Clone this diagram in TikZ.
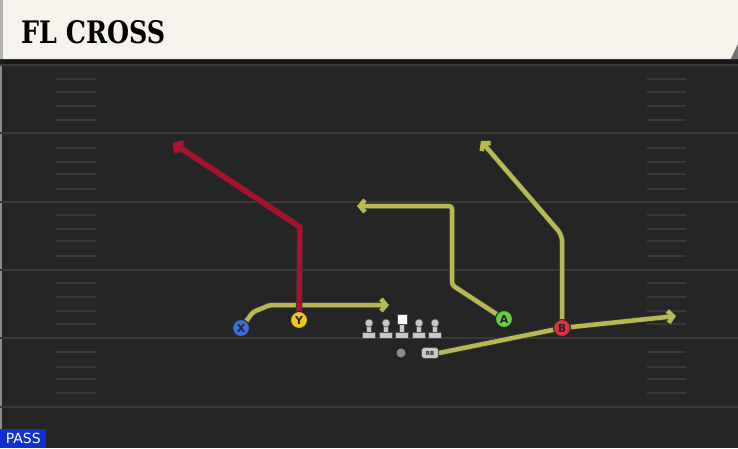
\documentclass[tikz,border=0pt]{standalone}
\usepackage{fontspec}
\setmainfont{DejaVu Sans}
\newfontfamily\titlefont{DejaVu Serif}
\usetikzlibrary{arrows.meta}
\definecolor{fieldbg}{HTML}{252525}
\definecolor{yardline}{HTML}{393939}
\definecolor{hashc}{HTML}{383838}
\definecolor{headerbg}{HTML}{F5F3EC}
\definecolor{routeyel}{HTML}{B8B852}
\definecolor{routered}{HTML}{B0102E}
\definecolor{xblue}{HTML}{3A6FD8}
\definecolor{yyel}{HTML}{F2C420}
\definecolor{agreen}{HTML}{62D040}
\definecolor{bred}{HTML}{E0303E}
\definecolor{linem}{HTML}{C8C8C8}
\definecolor{passblue}{HTML}{1030D0}
\pgfdeclarelayer{field}
\pgfdeclarelayer{routes}
\pgfsetlayers{field,routes,main}
\tikzset{
  player/.style={circle, draw=black!85, line width=1pt, minimum size=17pt, inner sep=0pt,
    font=\bfseries\fontsize{11}{11}\selectfont, text=black!85},
  routebase/.style={line join=round, rounded corners=3pt,
    preaction={draw=black!80, line width=#1+1.6pt, -{Straight Barb[length=5pt,width=12pt]}}},
  yelroute/.style={routebase=4.5pt, draw=routeyel, line width=4.5pt, -{Straight Barb[length=5pt,width=12pt]}},
  redroute/.style={routebase=5pt, draw=routered, line width=5pt, -{Straight Barb[length=5pt,width=12pt]}},
  yardln/.style={draw=yardline, line width=2pt},
  hashln/.style={draw=hashc, line width=1.5pt},
  pics/lineman/.style={code={
    \fill[linem, draw=black!70, line width=0.6pt] (-6.5,16) rectangle (6.5,10.5);
    \fill[linem, draw=black!70, line width=0.6pt] (-2.5,10.5) rectangle (2.5,1);
    \fill[linem, draw=black!70, line width=0.6pt] (0,1) circle (4);
  }},
  pics/center/.style={code={
    \fill[linem, draw=black!70, line width=0.6pt] (-6.5,16) rectangle (6.5,10.5);
    \fill[linem, draw=black!70, line width=0.6pt] (-2.5,10.5) rectangle (2.5,1);
    \fill[white, draw=black!70, line width=0.6pt] (-5,2) rectangle (5,-8);
  }}
}
\begin{document}
\begin{tikzpicture}[x=1pt,y=-1pt]
\useasboundingbox (0,0) rectangle (738,448);
\begin{pgfonlayer}{field}
  \fill[fieldbg] (0,0) rectangle (738,448);
  \fill[black!45] (0,60) rectangle (2,448);
  % header
  \fill[black!90] (0,59) rectangle (738,66);
  \fill[headerbg] (0,0) -- (738,0) -- (738,44) -- (731,59) -- (0,59) -- cycle;
  \fill[black!30] (0,0) rectangle (3,59);
  \fill[black!55] (731,59) -- (738,44) -- (738,59) -- cycle;
  % yard lines
  \foreach \yy in {65,133,202,270,338,407}
    \draw[yardln] (0,\yy) -- (738,\yy);
  % hash marks
  \foreach \yy in {79,92,106,120,148,162,174,189,215,229,241,256,283,297,311,324,352,367,379,393}{
    \draw[hashln] (56,\yy) -- (96,\yy);
    \draw[hashln] (647,\yy) -- (686,\yy);
  }
\end{pgfonlayer}
\node[anchor=west, inner sep=0pt] (title) at (21,32)
  {\resizebox{144pt}{23pt}{\titlefont\bfseries FL CROSS}};
% players
\node[player, fill=xblue] (X) at (241,328) {X};
\node[player, fill=yyel] (Y) at (299,320) {Y};
\node[player, fill=agreen] (A) at (504,319) {A};
\node[player, fill=bred] (B) at (562,328) {B};
\node[fill=linem, draw=black!70, line width=0.6pt, rounded corners=3pt, minimum width=17pt,
  minimum height=11pt, inner sep=0pt, font=\bfseries\fontsize{5.5}{5.5}\selectfont, text=black!85]
  (RB) at (430,353) {RB};
\node[circle, fill=black!45, minimum size=9pt, inner sep=0pt] (QB) at (401,353) {};
% offensive line
\pic at (369,322) {lineman};
\pic at (386,322) {lineman};
\pic at (402,322) {center};
\pic at (419,322) {lineman};
\pic at (435,322) {lineman};
% route points
\coordinate (x1) at (253,312);
\coordinate (x2) at (270,305);
\coordinate (xEnd) at (389,305);
\coordinate (y1) at (300,227);
\coordinate (yEnd) at (173,143);
\coordinate (a1) at (452,285);
\coordinate (a2) at (452,206);
\coordinate (aEnd) at (357,206);
\coordinate (b1) at (562,235);
\coordinate (bEnd) at (481,141);
\coordinate (rbEnd) at (676,316);
\begin{pgfonlayer}{routes}
  \draw[yelroute] (X.center) -- (x1) -- (x2) -- (xEnd);
  \draw[yelroute] (A.center) -- (a1) -- (a2) -- (aEnd);
  \draw[yelroute, rounded corners=6pt] (B.center) -- (b1) -- (bEnd);
  \draw[yelroute, rounded corners=0pt] (RB.east) -- (B.center) -- (rbEnd);
  \draw[redroute, rounded corners=0pt] (Y.center) -- (y1) -- (yEnd);
\end{pgfonlayer}
% pass label
\node[fill=passblue, text=white, anchor=south west, minimum width=46pt, minimum height=19pt,
  inner sep=0pt, font=\fontsize{14}{14}\selectfont] (pass) at (0,448) {PASS};
\end{tikzpicture}
\end{document}
